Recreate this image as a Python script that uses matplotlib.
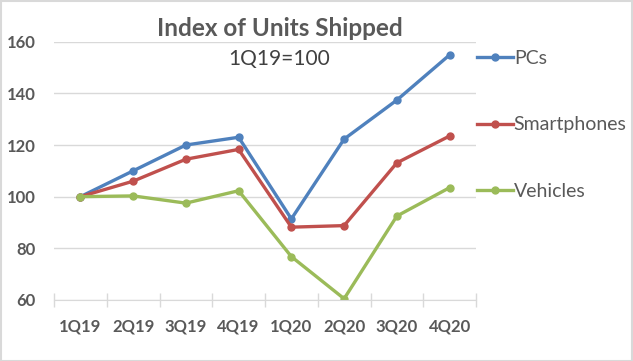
import matplotlib.pyplot as plt
from matplotlib.patches import Rectangle

# data
quarters = ["1Q19", "2Q19", "3Q19", "4Q19", "1Q20", "2Q20", "3Q20", "4Q20"]
pcs = [100, 110, 120, 123, 91.4, 122.3, 137.4, 154.9]
smartphones = [100, 106, 114.5, 118.3, 88.2, 88.8, 113.1, 123.5]
vehicles = [100, 100.3, 97.5, 102.3, 76.8, 60.5, 92.5, 103.5]

grey = "#595959"
grid = "#D9D9D9"
plt.rcParams["font.family"] = ["Lato", "DejaVu Sans"]

fig = plt.figure(figsize=(6.33, 3.61), dpi=100)
ax = fig.add_axes([54 / 633, 61 / 361, 422 / 633, 258.3 / 361])

x = range(len(quarters))
ax.plot(x, pcs, color="#4F81BD", lw=2.4, marker="o", ms=5, label="PCs")
ax.plot(x, smartphones, color="#C0504D", lw=2.4, marker="o", ms=5, label="Smartphones")
ax.plot(x, vehicles, color="#9BBB59", lw=2.4, marker="o", ms=5, label="Vehicles")

ax.set_ylim(60, 160)
ax.set_yticks([60, 80, 100, 120, 140, 160])
ax.set_xlim(-0.5, len(quarters) - 0.5)
ax.set_xticks(list(x))
ax.set_xticklabels(quarters)
ax.set_xticks([i - 0.5 for i in range(len(quarters) + 1)], minor=True)

ax.grid(axis="y", color=grid, lw=1)
ax.set_axisbelow(True)
for s in ["top", "right", "left"]:
    ax.spines[s].set_visible(False)
ax.spines["bottom"].set_color(grid)

ax.tick_params(axis="y", length=0, pad=13, labelsize=12, labelcolor=grey)
ax.tick_params(axis="x", which="major", length=0, pad=13, labelsize=12, labelcolor=grey)
ax.tick_params(axis="x", which="minor", direction="inout", length=9.5, color=grid, width=1)
for t in ax.get_xticklabels() + ax.get_yticklabels():
    t.set_fontweight("bold")

fig.text(280 / 633, 1 - 28.5 / 361, "Index of Units Shipped", ha="center", va="center",
         fontsize=17.5, fontweight="bold", color=grey)
fig.text(279 / 633, 1 - 59 / 361, "1Q19=100", ha="center", va="center",
         fontsize=15, color="#404040")

leg = ax.legend(loc="upper left", bbox_to_anchor=(0.986, 0.995), frameon=False,
                fontsize=14, handlelength=1.85, handletextpad=0.05, labelspacing=2.55,
                borderaxespad=0, borderpad=0.35)
for t in leg.get_texts():
    t.set_color(grey)

fig.patches.append(Rectangle((0.001, 0.001), 0.997, 0.996, transform=fig.transFigure,
                             fill=False, edgecolor=grid, lw=1.5))

fig.savefig("out.png", dpi=100)
